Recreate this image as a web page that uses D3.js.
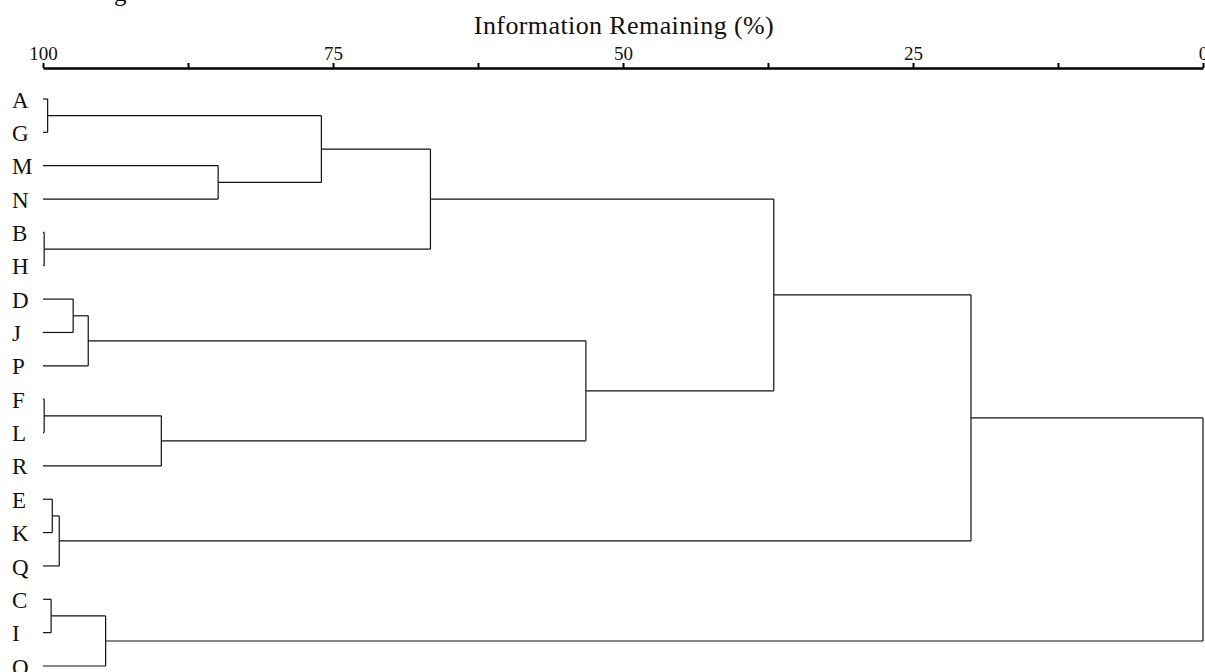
<!DOCTYPE html>
<html>
<head>
<meta charset="utf-8">
<script src="https://cdn.jsdelivr.net/npm/d3@7"></script>
<style>
  html, body { margin: 0; padding: 0; background: #fff; }
  #canvas { width: 1205px; height: 672px; overflow: hidden; }
  text { font-family: "Liberation Serif", "DejaVu Serif", serif; fill: #111; }
</style>
</head>
<body>
<div id="canvas"></div>
<script>
// leaf order, top to bottom
var leafLabels = ["A", "G", "M", "N", "B", "H", "D", "J", "P",
                  "F", "L", "R", "E", "K", "Q", "C", "I", "O"];

// merge steps: [new cluster, first child, second child, information remaining (%)]
var merges = [
    ["AG", "A", "G", 99.6],
    ["BH", "B", "H", 99.9],
    ["FL", "F", "L", 99.9],
    ["EK", "E", "K", 99.2],
    ["CI", "C", "I", 99.3],
    ["EKQ", "EK", "Q", 98.6],
    ["DJ", "D", "J", 97.4],
    ["DJP", "DJ", "P", 96.1],
    ["CIO", "CI", "O", 94.6],
    ["FLR", "FL", "R", 89.8],
    ["MN", "M", "N", 84.9],
    ["AGMN", "AG", "MN", 76.0],
    ["AGMNBH", "AGMN", "BH", 66.6],
    ["DJPFLR", "DJP", "FLR", 53.2],
    ["G1", "AGMNBH", "DJPFLR", 37.0],
    ["G2", "G1", "EKQ", 20.0],
    ["ALL", "G2", "CIO", 0]
];

var tickValues = [100, 87.5, 75, 62.5, 50, 37.5, 25, 12.5, 0];
var labeledTicks = [100, 75, 50, 25, 0];
var axisTitle = "Information Remaining (%)";

var width = 1205, height = 672;

var svg = d3.select("#canvas").append("svg")
    .attr("width", width)
    .attr("height", height);

var x = d3.scaleLinear().domain([100, 0]).range([43, 1203]);
var y = d3.scalePoint().domain(leafLabels).range([99, 666]);

// position of every node: leaves first, then clusters
var nodes = {};
leafLabels.forEach(function (l) {
    nodes[l] = { level: 100, y: y(l) };
});
merges.forEach(function (m) {
    var a = nodes[m[1]], b = nodes[m[2]];
    nodes[m[0]] = { level: m[3], y: (a.y + b.y) / 2 };
});

// clipped caption fragment at the very top
svg.append("text")
    .attr("x", 114)
    .attr("y", 1)
    .style("font-size", "25px")
    .text("g");

// axis on top
var axis = d3.axisTop(x)
    .tickValues(tickValues)
    .tickSize(5)
    .tickSizeOuter(0)
    .tickPadding(3)
    .tickFormat(function (d) { return labeledTicks.indexOf(d) >= 0 ? d3.format("d")(d) : ""; });

var axisG = svg.append("g")
    .attr("transform", "translate(0,68)")
    .call(axis);

axisG.select(".domain").attr("stroke", "#000").attr("stroke-width", 2.5);
axisG.selectAll(".tick line").attr("stroke", "#000").attr("stroke-width", 2);
axisG.selectAll(".tick text")
    .style("font-size", "19px")
    .style("font-family", "'Liberation Serif', serif")
    .attr("fill", "#111");

svg.append("text")
    .attr("x", 624)
    .attr("y", 34)
    .attr("text-anchor", "middle")
    .style("font-size", "26px")
    .style("letter-spacing", "0.4px")
    .text(axisTitle);

// dendrogram links
var linkG = svg.append("g")
    .attr("stroke", "#111")
    .attr("stroke-width", 1.2)
    .attr("fill", "none");

var segs = [];
merges.forEach(function (m) {
    var p = nodes[m[0]], a = nodes[m[1]], b = nodes[m[2]];
    segs.push({ x1: x(p.level), y1: a.y, x2: x(p.level), y2: b.y });
    segs.push({ x1: x(a.level), y1: a.y, x2: x(p.level), y2: a.y });
    segs.push({ x1: x(b.level), y1: b.y, x2: x(p.level), y2: b.y });
});

linkG.selectAll("line")
    .data(segs)
    .enter()
    .append("line")
    .attr("x1", function (d) { return d.x1; })
    .attr("y1", function (d) { return d.y1; })
    .attr("x2", function (d) { return d.x2; })
    .attr("y2", function (d) { return d.y2; });

// leaf labels
svg.append("g").selectAll("text")
    .data(leafLabels)
    .enter()
    .append("text")
    .attr("x", 12)
    .attr("y", function (d) { return y(d) + 1; })
    .attr("dy", "0.33em")
    .style("font-size", "23px")
    .text(function (d) { return d; });
</script>
</body>
</html>
